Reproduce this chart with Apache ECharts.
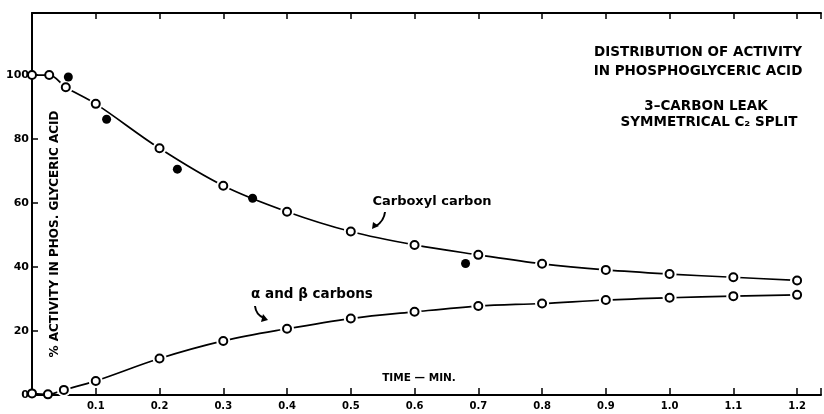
<!DOCTYPE html>
<html>
<head>
<meta charset="utf-8">
<script src="https://cdn.jsdelivr.net/npm/echarts@6/dist/echarts.min.js"></script>
<style>
html,body{margin:0;padding:0;background:#fff;}
#chart{width:824px;height:414px;}
</style>
</head>
<body>
<div id="chart"></div>
<script>
// time (min) and % activity
var carboxylTime = [0, 0.027, 0.053, 0.1, 0.2, 0.3, 0.4, 0.5, 0.6, 0.7, 0.8, 0.9, 1.0, 1.1, 1.2];
var carboxylPct  = [100, 100, 96.2, 91.0, 77.1, 65.4, 57.3, 51.1, 46.9, 43.8, 41.0, 39.1, 37.8, 36.8, 35.8];
var measuredTime = [0.057, 0.117, 0.228, 0.346, 0.68];
var measuredPct  = [99.4, 86.2, 70.6, 61.5, 41.1];
var abTime = [0, 0.025, 0.05, 0.1, 0.2, 0.3, 0.4, 0.5, 0.6, 0.7, 0.8, 0.9, 1.0, 1.1, 1.2];
var abPct  = [0.5, 0.2, 1.6, 4.4, 11.4, 16.9, 20.7, 23.9, 26.0, 27.8, 28.6, 29.7, 30.4, 30.9, 31.3];
var yTicks = [0, 20, 40, 60, 80, 100];

function pairs(xs, ys) {
	return xs.map(function (x, i) { return [x, ys[i]]; });
}

var chart = echarts.init(document.getElementById('chart'));
var FONT = 'DejaVu Sans';
var lbl = { fontFamily: FONT, fontWeight: 'bold', color: '#000' };

function lineSeries(data) {
	return [
		{ type: 'line', data: data, smooth: 0.35, showSymbol: false, z: 2,
			lineStyle: { color: '#000', width: 1.7 } },
		// white halo so the curve stops short of each circle (not on the axis)
		{ type: 'scatter', data: data.filter(function (p) { return p[0] > 0.04; }),
			symbolSize: 14, z: 3, silent: true,
			itemStyle: { color: '#fff', opacity: 1 } },
		{ type: 'scatter', data: data, symbolSize: 8, z: 4,
			itemStyle: { color: '#fff', borderColor: '#000', borderWidth: 2, opacity: 1 } }
	];
}

var series = [].concat(
	lineSeries(pairs(carboxylTime, carboxylPct)),
	lineSeries(pairs(abTime, abPct)),
	[{ type: 'scatter', data: pairs(measuredTime, measuredPct), symbolSize: 9, z: 5,
		itemStyle: { color: '#000', opacity: 1 } }]
);

var option = {
	animation: false,
	backgroundColor: '#fff',
	grid: { left: 32, right: 0, top: 13, bottom: 19 },
	xAxis: [
		{
			type: 'value', min: 0, max: 1.2375, interval: 0.1,
			axisLine: { lineStyle: { color: '#000', width: 2 } },
			axisTick: { inside: true, length: 7, lineStyle: { color: '#000', width: 1.5 } },
			splitLine: { show: false },
			axisLabel: Object.assign({ fontSize: 10, margin: 6,
				formatter: function (v) {
					if (v < 0.05 || Math.abs(v * 10 - Math.round(v * 10)) > 1e-6) return '';
					return v.toFixed(1);
				} }, lbl)
		},
		{
			type: 'value', position: 'top', min: 0, max: 1.2375, interval: 0.1,
			axisLine: { onZero: false, lineStyle: { color: '#000', width: 2 } },
			axisTick: { inside: true, length: 6, lineStyle: { color: '#000', width: 1.5 } },
			axisLabel: { show: false },
			splitLine: { show: false }
		}
	],
	yAxis: {
		type: 'value', min: 0, max: 119.4, interval: 20,
		axisLine: { show: true, lineStyle: { color: '#000', width: 2 } },
		axisTick: { inside: true, length: 6, lineStyle: { color: '#000', width: 1.5 } },
		splitLine: { show: false },
		axisLabel: Object.assign({ fontSize: 11, margin: 3,
			formatter: function (v) { return yTicks.indexOf(v) >= 0 ? String(v) : ''; } }, lbl)
	},
	graphic: [
		{ type: 'text', x: 55, y: 234, rotation: Math.PI / 2,
			style: { text: '% ACTIVITY IN PHOS. GLYCERIC ACID', font: 'bold 12px ' + FONT,
				align: 'center', verticalAlign: 'middle', fill: '#000' } },
		{ type: 'text', x: 698, y: 52, style: { text: 'DISTRIBUTION OF ACTIVITY', font: 'bold 13.5px ' + FONT, align: 'center', verticalAlign: 'middle', fill: '#000' } },
		{ type: 'text', x: 698, y: 71, style: { text: 'IN PHOSPHOGLYCERIC ACID', font: 'bold 13.5px ' + FONT, align: 'center', verticalAlign: 'middle', fill: '#000' } },
		{ type: 'text', x: 706, y: 106, style: { text: '3–CARBON LEAK', font: 'bold 13.5px ' + FONT, align: 'center', verticalAlign: 'middle', fill: '#000' } },
		{ type: 'text', x: 709, y: 122, style: { text: 'SYMMETRICAL C₂ SPLIT', font: 'bold 13.5px ' + FONT, align: 'center', verticalAlign: 'middle', fill: '#000' } },
		{ type: 'text', x: 432, y: 202, style: { text: 'Carboxyl carbon', font: 'bold 13px ' + FONT, align: 'center', verticalAlign: 'middle', fill: '#000' } },
		{ type: 'text', x: 312, y: 294, style: { text: 'α and β carbons', font: 'bold 13.5px ' + FONT, align: 'center', verticalAlign: 'middle', fill: '#000' } },
		{ type: 'text', x: 419, y: 378, style: { text: 'TIME — MIN.', font: 'bold 10.5px ' + FONT, align: 'center', verticalAlign: 'middle', fill: '#000' } },
		// arrows
		{ type: 'bezierCurve', shape: { x1: 385, y1: 212, cpx1: 384, cpy1: 221, x2: 376, y2: 226 },
			style: { stroke: '#000', lineWidth: 2, fill: null } },
		{ type: 'polygon', shape: { points: [[372, 229], [373, 222], [379, 226]] }, style: { fill: '#000' } },
		{ type: 'bezierCurve', shape: { x1: 255, y1: 306, cpx1: 256, cpy1: 315, x2: 264, y2: 318 },
			style: { stroke: '#000', lineWidth: 2, fill: null } },
		{ type: 'polygon', shape: { points: [[268, 320], [261, 322], [263, 314]] }, style: { fill: '#000' } }
	],
	series: series
};
chart.setOption(option);
</script>
</body>
</html>
